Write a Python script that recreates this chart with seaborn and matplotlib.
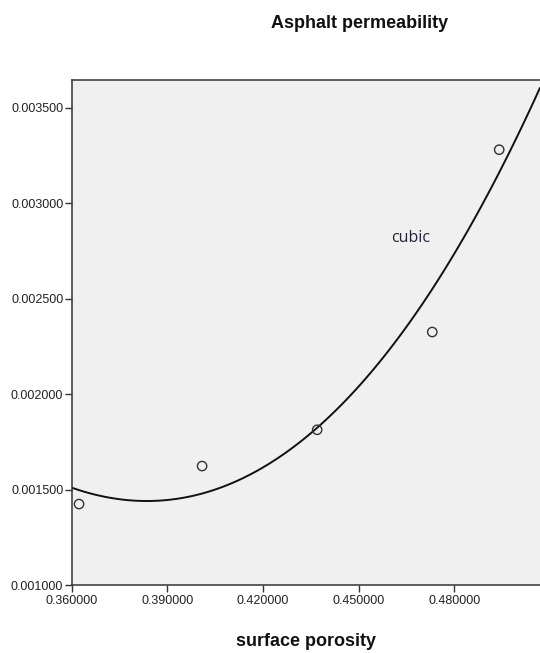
import matplotlib
matplotlib.use("Agg")
import matplotlib.pyplot as plt
import seaborn as sns
import pandas as pd
from matplotlib.ticker import FormatStrFormatter

# Observed samples: surface porosity vs. permeability
porosity = [0.3623, 0.4009, 0.4370, 0.4731, 0.4941]
permeability = [0.001424, 0.001623, 0.001813, 0.002325, 0.003280]

# Values of the fitted cubic model along the porosity range
curve_porosity = [0.3600, 0.3835, 0.4013, 0.4170, 0.4337,
                  0.4525, 0.4734, 0.4828, 0.4943, 0.5069]
curve_permeability = [0.001510, 0.001445, 0.001480, 0.001567, 0.001779,
                      0.002119, 0.002556, 0.002800, 0.003149, 0.003620]

x_ticks = [0.36, 0.39, 0.42, 0.45, 0.48]
y_ticks = [0.0010, 0.0015, 0.0020, 0.0025, 0.0030, 0.0035]

obs = pd.DataFrame({"surface porosity": porosity, "permeability": permeability})
model = pd.DataFrame({"surface porosity": curve_porosity,
                      "permeability": curve_permeability})

sns.set_style("ticks")
plt.rcParams["font.family"] = ["Liberation Sans", "DejaVu Sans"]

fig = plt.figure(figsize=(5.40, 6.53), dpi=100)
ax = fig.add_axes([71.7 / 540, 1 - 585 / 653, (540 - 71.7) / 540, (585 - 80) / 653])
ax.set_facecolor("#f0f0f0")

ax.set_xlim(0.36, 0.5069)
ax.set_ylim(0.001, 0.003645)

# cubic curve across the full x-range
sns.regplot(data=model, x="surface porosity", y="permeability", order=3, ci=None,
            truncate=False, scatter=False, ax=ax,
            line_kws={"color": "#111111", "linewidth": 1.4})
sns.scatterplot(data=obs, x="surface porosity", y="permeability", ax=ax,
                marker="o", s=45, facecolor="none", edgecolor="#333333",
                linewidth=1.0, zorder=3)

ax.set_xticks(x_ticks)
ax.set_yticks(y_ticks)
ax.xaxis.set_major_formatter(FormatStrFormatter("%.6f"))
ax.yaxis.set_major_formatter(FormatStrFormatter("%.6f"))
ax.tick_params(axis="both", direction="out", length=5, width=1.0,
               color="#333333", labelsize=9, labelcolor="#222222")
ax.tick_params(axis="x", pad=2.5)
ax.tick_params(axis="y", pad=1)

for side in ["left", "bottom", "top"]:
    ax.spines[side].set_color("#333333")
    ax.spines[side].set_linewidth(1.1)
ax.spines["right"].set_visible(False)

ax.set_ylabel("")
ax.set_xlabel("surface porosity", fontsize=13, fontweight="bold",
              color="#111111", labelpad=18.5)

ax.text(0.4662, 0.002815, "cubic", fontsize=11.5, color="#22223a",
        family=["Open Sans", "DejaVu Sans"], ha="center", va="center")

fig.text(360 / 540, 1 - 23 / 653, "Asphalt permeability", fontsize=13,
         fontweight="bold", color="#111111", ha="center", va="center")

fig.savefig("out.png", dpi=100, facecolor="white")
